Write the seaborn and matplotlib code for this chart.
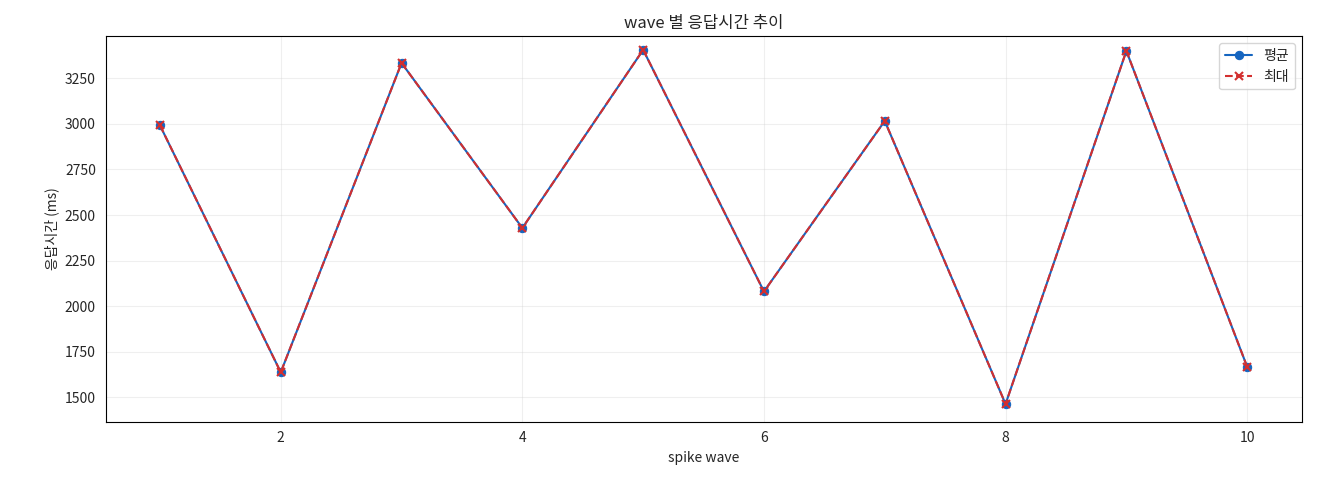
import seaborn as sns
import matplotlib.pyplot as plt
import pandas as pd

waves = [1, 2, 3, 4, 5, 6, 7, 8, 9, 10]
avg_ms = [2992, 1638, 3334, 2429, 3406, 2081, 3016, 1464, 3400, 1668]
max_ms = [2992, 1638, 3334, 2429, 3406, 2081, 3016, 1464, 3400, 1668]

df = pd.DataFrame({"wave": waves, "avg": avg_ms, "max": max_ms})

sns.set_style("white")
plt.rcParams["font.family"] = ["Noto Sans CJK KR", "DejaVu Sans"]

fig, ax = plt.subplots(figsize=(13.2, 4.8), dpi=100)
sns.lineplot(data=df, x="wave", y="avg", ax=ax, marker="o", color="#1565c0",
             label="평균", markeredgecolor="#1565c0", markersize=6)
sns.lineplot(data=df, x="wave", y="max", ax=ax, marker="x", color="#d32f2f",
             label="최대", markeredgecolor="#d32f2f", markersize=6,
             markeredgewidth=1.5)
ax.lines[1].set_linestyle("--")
ax.set_ylim(1367, 3480)
ax.set_title("wave 별 응답시간 추이")
ax.set_xlabel("spike wave")
ax.set_ylabel("응답시간 (ms)")
ax.grid(True, alpha=0.3)
for s in ax.spines.values():
    s.set_color("black")
ax.legend(loc="upper right")
plt.tight_layout()
fig.subplots_adjust(left=0.08, right=0.986)
plt.savefig("out.png")
